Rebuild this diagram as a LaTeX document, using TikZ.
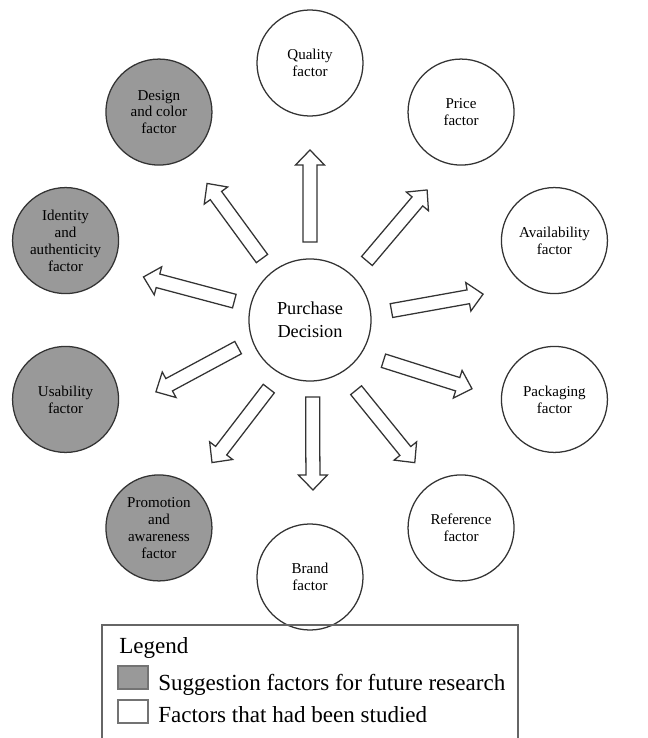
\documentclass[tikz,border=0pt]{standalone}
\usepackage{fontspec}
\setmainfont{Liberation Serif}
\usetikzlibrary{calc}
\definecolor{suggest}{gray}{0.6}
\definecolor{rim}{gray}{0.2}
\tikzset{
  factor/.style={circle, draw=rim, line width=0.9pt, minimum size=2.65cm, inner sep=0pt,
    align=center, font=\fontsize{10.7}{12}\selectfont},
  studied/.style={factor, fill=white},
  future/.style={factor, fill=suggest},
  hub/.style={circle, draw=rim, line width=0.9pt, minimum size=3.05cm, inner sep=0pt,
    align=center, font=\fontsize{13}{16.3}\selectfont},
  fatarrow/.style={draw=rim, line width=0.9pt, fill=white, line join=miter},
  swatch/.style={draw=black!55, line width=0.9pt, minimum width=0.75cm, minimum height=0.575cm, inner sep=0pt},
  legtext/.style={anchor=base west, inner sep=0pt, font=\fontsize{16.4}{20}\selectfont},
}
% hollow block arrow from #1 (tail) to #2 (tip)
\newcommand{\fatarrow}[2]{%
  \coordinate (hb) at ($(#2)!0.375cm!(#1)$);
  \draw[fatarrow] ($(#1)!0.175cm!90:(#2)$) -- ($(hb)!0.175cm!90:(#2)$) -- ($(hb)!0.3625cm!90:(#2)$)
    -- (#2) -- ($(hb)!0.3625cm!-90:(#2)$) -- ($(hb)!0.175cm!-90:(#2)$) -- ($(#1)!0.175cm!-90:(#2)$) -- cycle;}
\begin{document}
\begin{tikzpicture}[x=0.025cm, y=0.025cm]
\useasboundingbox (-310,-418) rectangle (337,320);
\node[hub] (pd) at (0,0) {Purchase\\Decision};
\node[studied] (quality) at (90:257) {Quality\\factor};
\node[studied] (price) at (54:257) {Price\\factor};
\node[studied] (avail) at (18:257) {Availability\\factor};
\node[studied] (packaging) at (-18:257) {Packaging\\factor};
\node[studied] (reference) at (-54:257) {Reference\\factor};
\node[studied] (brand) at (-90:257) {Brand\\factor};
\node[future] (promotion) at (-126:257) {Promotion\\and\\awareness\\factor};
\node[future] (usability) at (-162:257) {Usability\\factor};
\node[future] (identity) at (162:257) {Identity\\and\\authenticity\\factor};
\node[future] (design) at (126:257) {Design\\and color\\factor};
\foreach \nm/\ta/\tr/\ha/\hr in {quality/90/78/90/170, design/128/78/127/171,
    identity/166/78/165.5/172, price/46/82/48/175, avail/6.6/82/8.5/175,
    usability/201/77/205/170, promotion/239/80/235.5/173, brand/272/77/271/170,
    packaging/-29/84/-23/176, reference/-56.7/84/-53.7/177}{
  \coordinate (t-\nm) at ($(pd)+(\ta:\tr)$);
  \coordinate (h-\nm) at ($(pd)+(\ha:\hr)$);
  \fatarrow{t-\nm}{h-\nm}
}
% legend
\node[draw=black!60, line width=0.9pt, minimum width=10.4cm, minimum height=2.875cm] (legend) at (0,-362.5) {};
\node[legtext] (legtitle) at (-191,-333) {Legend};
\node[swatch, fill=suggest] (swfuture) at (-177,-357.5) {};
\node[swatch, fill=white] (swstudied) at (-177,-391.5) {};
\node[legtext] (txfuture) at (-152,-370) {Suggestion factors for future research};
\node[legtext] (txstudied) at (-152,-402) {Factors that had been studied};
\end{tikzpicture}
\end{document}
